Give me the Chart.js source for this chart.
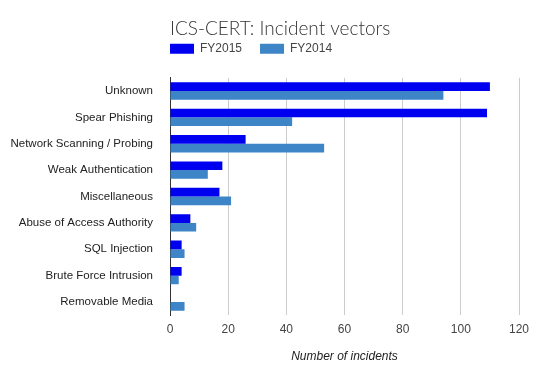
<!DOCTYPE html>
<html>
<head>
<meta charset="utf-8">
<script src="https://cdn.jsdelivr.net/npm/chart.js@4.4.1/dist/chart.umd.min.js"></script>
<style>
  html, body { margin: 0; padding: 0; background: #fff; }
  #wrap { width: 556px; height: 380px; }
</style>
</head>
<body>
<div id="wrap"><canvas id="chart" width="556" height="380"></canvas></div>
<script>
// categories and values
const vectors = [
  'Unknown',
  'Spear Phishing',
  'Network Scanning / Probing',
  'Weak Authentication',
  'Miscellaneous',
  'Abuse of Access Authority',
  'SQL Injection',
  'Brute Force Intrusion',
  'Removable Media'
];
const fy2015 = [110, 109, 26, 18, 17, 7, 4, 4, 0];
const fy2014 = [94, 42, 53, 13, 21, 9, 5, 3, 5];
const xTicks = [0, 20, 40, 60, 80, 100, 120];

// nudge title and legend so they sit like in the original
const headerShift = {
  id: 'headerShift',
  afterLayout(chart) {
    const t = chart.titleBlock;
    if (t) {
      t.top += 2;
      t.bottom += 2;
    }
    const l = chart.legend;
    if (l) {
      l.left -= 18;
      l.right -= 18;
      l.top -= 13;
      l.bottom -= 13;
    }
  }
};

const ctx = document.getElementById('chart').getContext('2d');

new Chart(ctx, {
  type: 'bar',
  data: {
    labels: vectors,
    datasets: [
      {
        label: 'FY2015',
        data: fy2015,
        backgroundColor: '#0000f0',
        barPercentage: 1,
        categoryPercentage: 0.66,
      },
      {
        label: 'FY2014',
        data: fy2014,
        backgroundColor: '#3d85c6',
        barPercentage: 1,
        categoryPercentage: 0.66,
      },
    ],
  },
  plugins: [headerShift],
  options: {
    indexAxis: 'y',
    responsive: false,
    animation: false,
    layout: { padding: { left: 0, right: 37, top: 15, bottom: 16 } },
    plugins: {
      title: {
        display: true,
        text: 'ICS-CERT: Incident vectors',
        align: 'start',
        fullSize: false,
        color: '#333',
        font: { family: 'Lato, "Open Sans", sans-serif', size: 19, weight: 300 },
        padding: 0,
      },
      legend: {
        display: true,
        position: 'top',
        align: 'start',
        fullSize: false,
        labels: {
          boxWidth: 24,
          boxHeight: 10,
          padding: 18,
          color: '#444',
          font: { family: '"Liberation Sans", Arial, sans-serif', size: 12 },
        },
      },
      tooltip: { enabled: false },
    },
    scales: {
      x: {
        min: 0,
        max: 120,
        afterBuildTicks(scale) {
          scale.ticks = xTicks.map(v => ({ value: v }));
        },
        grid: {
          color: '#cccccc',
          drawTicks: false,
        },
        border: { display: false },
        ticks: {
          padding: 7,
          color: '#444',
          font: { family: '"Liberation Sans", Arial, sans-serif', size: 12 },
        },
        title: {
          display: true,
          text: 'Number of incidents',
          color: '#222',
          font: { family: '"Liberation Sans", Arial, sans-serif', size: 12, style: 'italic' },
          padding: { top: 6, bottom: 0 },
        },
      },
      y: {
        afterFit(scale) {
          scale.width = 170;
        },
        grid: { display: false, drawTicks: false },
        border: { display: true, color: '#333', width: 1 },
        ticks: {
          padding: 17,
          color: '#222',
          font: { family: '"Liberation Sans", Arial, sans-serif', size: 11.5 },
        },
      },
    },
  },
});
</script>
</body>
</html>
